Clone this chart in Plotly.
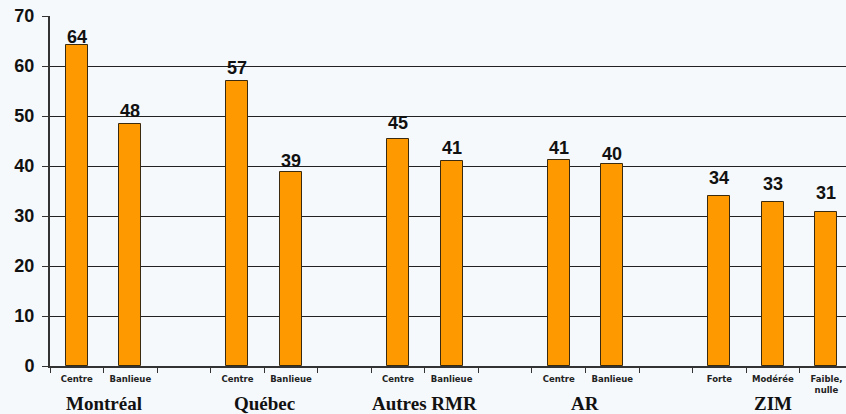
import plotly.graph_objects as go

# Data
positions = [0, 1, 3, 4, 6, 7, 9, 10, 12, 13, 14]
sub_labels = ["Centre", "Banlieue", "Centre", "Banlieue", "Centre", "Banlieue",
              "Centre", "Banlieue", "Forte", "Modérée", "Faible,<br>nulle"]
values = [64.2, 48.4, 57.1, 38.9, 45.4, 41.1, 41.2, 40.4, 34.1, 32.8, 30.8]
value_labels = ["64", "48", "57", "39", "45", "41", "41", "40", "34", "33", "31"]
group_names = ["Montréal", "Québec", "Autres RMR", "AR", "ZIM"]
group_centers = [0.5, 3.5, 6.5, 9.5, 13]

# Styling: pixel gap between each value label and its bar top (as in the reference)
label_gaps = [0, 5, 5, 3, 8, 5, 4, 2, 10, 10, 11]

BG = "#f5f9fc"

fig = go.Figure()
fig.add_trace(go.Bar(
    x=positions, y=values, width=0.41,
    marker=dict(color="#FF9900", line=dict(color="#3a2a10", width=1)),
    hoverinfo="x+y",
))

for px, v, lab, gap in zip(positions, values, value_labels, label_gaps):
    fig.add_annotation(x=px, xref="x", y=v, yref="y", text=lab, showarrow=False,
                       yanchor="bottom", xanchor="center", yshift=-4 + gap,
                       font=dict(family="Liberation Sans", size=18, color="#111", weight=700))

for name, cx in zip(group_names, group_centers):
    fig.add_annotation(x=cx, xref="x", y=-0.106, yref="paper", text=name,
                       showarrow=False, yanchor="middle", xanchor="center",
                       font=dict(family="Liberation Serif", size=19, color="#111", weight=700))

fig.update_layout(
    width=846, height=414,
    margin=dict(l=50, r=0, t=16, b=48, autoexpand=False),
    paper_bgcolor=BG, plot_bgcolor=BG,
    showlegend=False, bargap=0,
    xaxis=dict(
        range=[-0.5, 14.365], tickmode="array", tickvals=positions, ticktext=sub_labels,
        ticks="", showgrid=False, showline=True, linecolor="#333", linewidth=2,
        tickfont=dict(family="DejaVu Sans", size=8.5, color="#222", weight=700),
        ticklabelstandoff=4, automargin=False,
        minor=dict(ticks="outside", tickmode="linear", tick0=-0.5, dtick=1,
                   ticklen=5, tickcolor="#333", tickwidth=1, showgrid=False),
    ),
    yaxis=dict(
        range=[0, 70], tickmode="linear", tick0=0, dtick=10,
        showgrid=True, gridcolor="#222", gridwidth=1,
        showline=True, linecolor="#333", linewidth=2,
        ticks="outside", ticklen=6, tickcolor="#333",
        tickfont=dict(family="Liberation Sans", size=18, color="#111", weight=700),
        ticklabelstandoff=4, zeroline=False, automargin=False,
    ),
)

fig.write_html(
    "out.html",
    config={"displayModeBar": False},
    post_script=(
        "document.body.style.margin='0';"
        "document.body.style.overflow='hidden';"
        f"document.body.style.background='{BG}';"
    ),
)
